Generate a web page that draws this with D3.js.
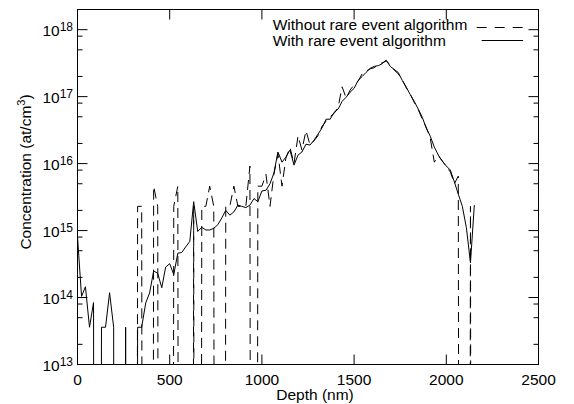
<!DOCTYPE html>
<html>
<head>
<meta charset="utf-8">
<style>
body{margin:0;background:#fff;}
text{font-family:"Liberation Sans",Arial,Helvetica,sans-serif;fill:#000;}
</style>
</head>
<body>
<script src="https://cdn.jsdelivr.net/npm/d3@7"></script>
<script>
// depth bins (nm)
var depth = [0,22,43,65,87,109,130,152,174,196,
             217,239,261,283,304,326,348,370,391,413,
             435,457,478,500,522,544,565,587,609,630,
             652,674,696,717,739,761,783,804,826,848,
             870,891,913,935,957,978,1000,1022,1044,1065,
             1087,1109,1130,1152,1174,1196,1217,1239,1261,1283,
             1304,1326,1348,1370,1391,1413,1435,1457,1478,1500,
             1522,1544,1565,1587,1609,1631,1652,1674,1696,1717,
             1739,1761,1783,1804,1826,1848,1870,1891,1913,1935,
             1957,1978,2000,2022,2044,2065,2087,2109,2131,2152];

// with rare event algorithm (solid)
var withRare = [8.1e14,1.04e14,1.45e14,3.6e13,8.4e13,0,3.6e13,3.6e13,1.18e14,3.6e13,
                0,0,3.6e13,0,0,3.6e13,3.6e13,8.3e13,1.17e14,2.5e14,
                2.3e14,1.4e14,2.85e14,3.2e14,2.2e14,4.6e14,4.7e14,5.7e14,6.9e14,2.7e15,
                9.7e14,1.12e15,1.02e15,1.02e15,1.08e15,1.22e15,1.55e15,2.0e15,1.7e15,1.9e15,
                2.4e15,2.3e15,2.2e15,2.4e15,3.0e15,2.7e15,3.9e15,4.0e15,5.0e15,7.2e15,
                1.49e16,1.05e16,1.25e16,1.59e16,9.5e15,1.34e16,1.49e16,1.95e16,1.89e16,2.24e16,
                2.75e16,3.4e16,4.6e16,4.6e16,5.8e16,6.5e16,8.5e16,9.8e16,1.16e17,1.33e17,
                1.75e17,2.0e17,2.3e17,2.64e17,2.83e17,2.9e17,3.1e17,3.5e17,2.83e17,2.55e17,
                2.3e17,1.75e17,1.38e17,1.08e17,8.5e16,6.5e16,4.9e16,3.4e16,2.57e16,1.76e16,
                1.34e16,1.09e16,9.2e15,8.0e15,5.3e15,3.5e15,2.3e15,1.1e15,3.3e14,2.4e15];

// without rare event algorithm (dashed)
var withoutRare = [0,0,0,0,0,0,0,0,0,0,
                   0,0,0,0,0,2.3e15,2.3e15,0,0,4.6e15,
                   2.3e15,0,0,0,2.3e15,4.6e15,0,0,0,2.3e15,
                   0,2.3e15,2.3e15,4.6e15,2.3e15,0,0,2.3e15,2.3e15,4.6e15,
                   2.3e15,2.3e15,2.3e15,9.2e15,0,4.6e15,4.6e15,6.9e15,2.3e15,6.9e15,
                   1.4e16,4.6e15,1.2e16,1.75e16,1.0e16,2.6e16,1.6e16,3.1e16,1.9e16,2.2e16,
                   2.6e16,3.6e16,4.3e16,5.0e16,5.6e16,6.9e16,1.4e17,9.5e16,1.25e17,1.5e17,
                   1.7e17,2.2e17,2.4e17,2.6e17,2.7e17,3.0e17,3.2e17,3.4e17,3.0e17,2.5e17,
                   2.2e17,1.8e17,1.35e17,1.1e17,8.2e16,6.4e16,4.6e16,3.5e16,2.4e16,1.05e16,
                   1.3e16,1.1e16,9.0e15,7.5e15,5.0e15,6.5e15,0,0,2.3e15,0];

var xTicks = [0,500,1000,1500,2000,2500];
var yMajor = [1e13,1e14,1e15,1e16,1e17,1e18];
var yMajorExp = ["13","14","15","16","17","18"];
var yMinor = [2e13,5e13,8e13,2e14,5e14,8e14,2e15,5e15,8e15,2e16,5e16,8e16,2e17,5e17,8e17];
var legendLabels = ["Without rare event algorithm","With rare event algorithm"];

var width=574, height=404;
var pl=77.5, pr=538.5, pt=9.5, pb=364.5;

var svg = d3.select("body").append("svg")
    .attr("width", width)
    .attr("height", height);

var x = d3.scaleLinear().domain([0,2500]).range([pl,pr]);
var y = d3.scaleLog().domain([1e13,2e18]).range([pb,pt]);

svg.append("clipPath").attr("id","plotclip")
   .append("rect").attr("x",pl).attr("y",pt).attr("width",pr-pl).attr("height",pb-pt);

// zero counts drop off the bottom of the log axis
var line = d3.line()
    .x((d,i) => x(depth[i]))
    .y(d => y(d > 0 ? d : 1e-30));

var gl = svg.append("g").attr("clip-path","url(#plotclip)");
gl.append("path")
  .attr("d", line(withoutRare))
  .attr("fill","none").attr("stroke","#000").attr("stroke-width",1)
  .attr("stroke-dasharray","10,6");
gl.append("path")
  .attr("d", line(withRare))
  .attr("fill","none").attr("stroke","#000").attr("stroke-width",1);

// axes, ticks pointing inward on all four sides
function clean(g){ g.select(".domain").remove(); g.selectAll("line").attr("stroke","#000"); }

svg.append("g").attr("transform","translate(0,"+pb+")")
   .call(d3.axisBottom(x).tickValues(xTicks).tickSize(-10).tickPadding(9).tickFormat(d3.format("d")).offset(0))
   .call(clean)
   .selectAll("text").attr("font-size","15.5px").attr("fill","#000");
svg.append("g").attr("transform","translate(0,"+pt+")")
   .call(d3.axisTop(x).tickValues(xTicks).tickSize(-10).tickFormat("").offset(0))
   .call(clean);

svg.append("g").attr("transform","translate("+pl+",0)")
   .call(d3.axisLeft(y).tickValues(yMajor).tickSize(-10).tickFormat("").offset(0))
   .call(clean);
svg.append("g").attr("transform","translate("+pl+",0)")
   .call(d3.axisLeft(y).tickValues(yMinor).tickSize(-5).tickFormat("").offset(0))
   .call(clean);
svg.append("g").attr("transform","translate("+pr+",0)")
   .call(d3.axisRight(y).tickValues(yMajor).tickSize(-10).tickFormat("").offset(0))
   .call(clean);
svg.append("g").attr("transform","translate("+pr+",0)")
   .call(d3.axisRight(y).tickValues(yMinor).tickSize(-5).tickFormat("").offset(0))
   .call(clean);
svg.selectAll(".tick text").attr("font-family",null);

// y tick labels 10^n
var yl = svg.append("g").selectAll("text")
    .data(yMajor)
    .join("text")
    .attr("x", 73)
    .attr("y", d => y(d) + 6.5)
    .attr("text-anchor","end")
    .attr("font-size","15.5px");
yl.append("tspan").text("10");
yl.append("tspan").attr("font-size","12px").attr("dy",-5.5).text((d,i) => yMajorExp[i]);

// frame
svg.append("rect").attr("x",pl).attr("y",pt).attr("width",pr-pl).attr("height",pb-pt)
   .attr("fill","none").attr("stroke","#000").attr("stroke-width",1);

// axis titles
svg.append("text").attr("x",315).attr("y",400).attr("text-anchor","middle")
   .attr("font-size","15.5px").text("Depth (nm)");
var yt = svg.append("text").attr("transform","translate(31,172) rotate(-90)")
   .attr("text-anchor","middle").attr("font-size","15.5px");
yt.append("tspan").text("Concentration (at/cm");
yt.append("tspan").attr("font-size","11px").attr("dy",-6).text("3");
yt.append("tspan").attr("dy",6).text(")");

// legend
var lg = svg.append("g");
lg.append("text").attr("x",272.7).attr("y",30).attr("font-size","15.5px").text(legendLabels[0]);
lg.append("text").attr("x",272.7).attr("y",46).attr("font-size","15.5px").text(legendLabels[1]);
lg.append("line").attr("x1",476.7).attr("x2",523).attr("y1",27.5).attr("y2",27.5)
  .attr("stroke","#000").attr("stroke-dasharray","10,8");
lg.append("line").attr("x1",481.7).attr("x2",523).attr("y1",40.5).attr("y2",40.5)
  .attr("stroke","#000");
</script>
</body>
</html>
